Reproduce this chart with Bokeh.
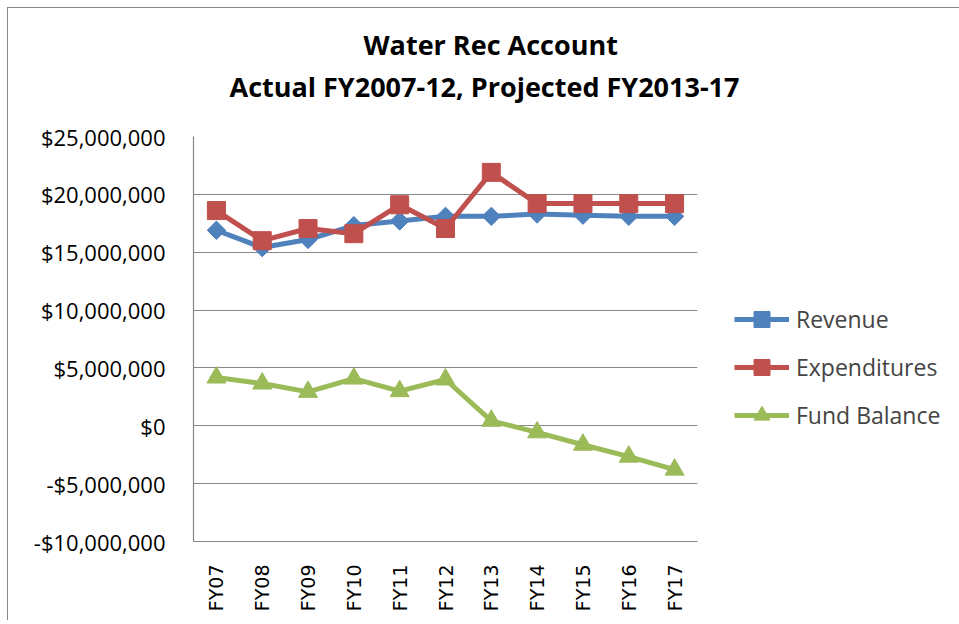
import math
from bokeh.plotting import figure
from bokeh.models import (FactorRange, Range1d, FixedTicker, CustomJSTickFormatter,
                          Legend, LegendItem, Title)
from bokeh.embed import file_html
from bokeh.resources import INLINE

years = ["FY07", "FY08", "FY09", "FY10", "FY11", "FY12", "FY13", "FY14", "FY15", "FY16", "FY17"]
revenue = [16.9e6, 15.4e6, 16.1e6, 17.3e6, 17.7e6, 18.1e6, 18.1e6, 18.3e6, 18.2e6, 18.1e6, 18.1e6]
expenditures = [18.6e6, 16.0e6, 17.05e6, 16.6e6, 19.1e6, 17.05e6, 21.9e6, 19.2e6, 19.2e6, 19.2e6, 19.2e6]
fund_balance = [4.17e6, 3.65e6, 2.93e6, 4.08e6, 2.99e6, 4.0e6, 0.43e6, -0.57e6, -1.64e6, -2.67e6, -3.79e6]
y_ticks = [-10e6, -5e6, 0, 5e6, 10e6, 15e6, 20e6, 25e6]
title1 = "Water Rec Account"
title2 = "Actual FY2007-12, Projected FY2013-17"

BLUE, RED, GREEN = "#4F81BD", "#C0504D", "#9BBB59"
GRID = "#878787"

p = figure(frame_width=504, frame_height=405, x_range=FactorRange(*years, range_padding=0),
           y_range=Range1d(-10e6, 25e6), output_backend="svg", toolbar_location=None,
           min_border_left=185, min_border_right=260, min_border_top=128, min_border_bottom=79)
p.styles = {"border-left": "1.5px solid #878787", "border-top": "1.5px solid #878787",
            "border-right": "none", "border-bottom": "none",
            "margin-left": "7px", "margin-top": "7px"}
p.outline_line_color = None
p.background_fill_color = "white"
p.border_fill_color = "white"

# outermost title line
p.title.text = title1
p.title.align = "left"
p.title.offset = 170
p.title.text_font = "Open Sans"
p.title.text_font_size = "27px"
p.title.text_font_style = "bold"
p.title.text_color = "black"
p.title.standoff = 3
# blank spacer nearest the plot area
sp = Title(text=" ", text_font_size="10px", standoff=17)
p.add_layout(sp, "above")
# second title line
t2 = Title(text=title2, align="left", offset=36, text_font="Open Sans",
           text_font_size="27px", text_font_style="bold", text_color="black", standoff=3)
p.add_layout(t2, "above")

p.xgrid.grid_line_color = None
p.ygrid.grid_line_color = GRID
p.ygrid.grid_line_width = 1.2
p.yaxis.ticker = FixedTicker(ticks=y_ticks)
p.yaxis.formatter = CustomJSTickFormatter(code="""
const a = Math.abs(tick).toLocaleString('en-US', {maximumFractionDigits: 0});
return (tick < 0 ? '-$' : '$') + a;
""")
for ax in (p.xaxis, p.yaxis):
    ax.axis_line_color = GRID
    ax.axis_line_width = 1.2
    ax.major_tick_line_color = None
    ax.minor_tick_line_color = None
p.yaxis.major_label_text_font = "Open Sans"
p.yaxis.major_label_text_font_size = "22px"
p.yaxis.major_label_text_color = "black"
p.yaxis.major_label_standoff = 22
p.xaxis.major_label_text_font = "DejaVu Sans"
p.xaxis.major_label_text_font_size = "19px"
p.xaxis.major_label_text_color = "black"
p.xaxis.major_label_orientation = math.pi / 2
p.xaxis.major_label_standoff = 17

lw = 5
r_l = p.line(years, revenue, line_color=BLUE, line_width=lw)
r_m = p.scatter(years, revenue, marker="square", angle=math.pi / 4, size=13,
                fill_color=BLUE, line_color=BLUE)
e_l = p.line(years, expenditures, line_color=RED, line_width=lw)
e_m = p.scatter(years, expenditures, marker="square", size=18, fill_color=RED, line_color=RED)
f_l = p.line(years, fund_balance, line_color=GREEN, line_width=lw)
f_m = p.scatter(years, fund_balance, marker="triangle", size=19, fill_color=GREEN, line_color=GREEN)

legend = Legend(items=[LegendItem(label="Revenue", renderers=[r_l, r_m]),
                       LegendItem(label="Expenditures", renderers=[e_l, e_m]),
                       LegendItem(label="Fund Balance", renderers=[f_l, f_m])],
                location=(37, 106), padding=0, margin=0, spacing=8,
                glyph_width=55, glyph_height=40, label_height=40, label_standoff=7,
                label_text_font="Open Sans", label_text_font_size="23px",
                label_text_baseline="middle",
                border_line_color=None, background_fill_alpha=0)
p.add_layout(legend, "right")

open("out.html", "w").write(file_html(p, INLINE))
